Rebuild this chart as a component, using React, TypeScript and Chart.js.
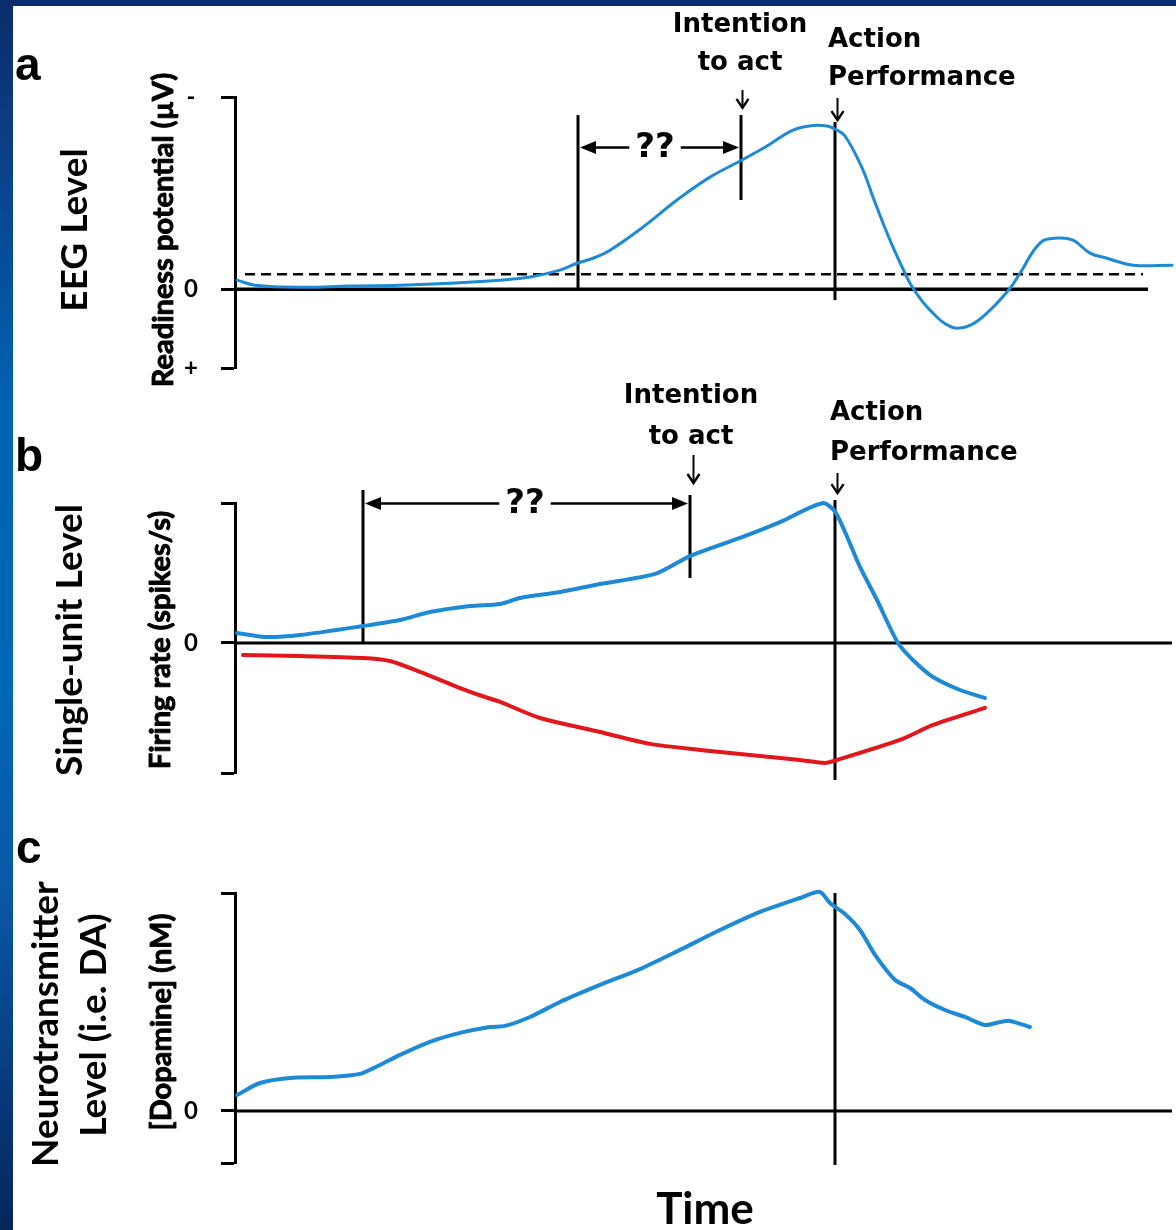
import React, { useEffect, useRef } from "react";
import { Chart, registerables } from "chart.js";

Chart.register(...registerables);

// ---------------- shared time axis (arbitrary units) ----------------
const timeMin = 0;
const timeMax = 94;

// ---------------- panel a : EEG readiness potential ----------------
const eegTime = [0.2, 2, 6.5, 11.5, 16.5, 21.5, 26.5, 29.5, 32.5, 34.2, 35.8, 37.5, 40.8, 44.2, 47.5, 50.7, 53.2, 55.8, 57.8, 59.2, 60, 61, 62.8, 63.8, 65.5, 67, 67.8, 69.5, 71.7, 73.5, 75.5, 77.5, 78.5, 80.5, 82.2, 83.8, 85.5, 87.2, 89.8, 93.7];
const eegPotential = [0.47, 0.21, 0.1, 0.16, 0.21, 0.31, 0.47, 0.63, 0.99, 1.35, 1.61, 2.03, 3.23, 4.64, 5.83, 6.72, 7.45, 8.28, 8.52, 8.49, 8.33, 7.97, 6.2, 4.79, 2.55, 0.83, 0.05, -1.09, -1.98, -1.88, -1.09, 0.05, 0.83, 2.4, 2.66, 2.55, 1.88, 1.61, 1.25, 1.25];
const eegReferenceLevel = 0.78;
const eegReferenceSpan = [1, 90.8];
const eegZeroSpan = [0, 91.3];
const eegEventTime = [34.3, 50.6, 60]; // onset, intention, action
const eegEventLow = [0, 4.64, -0.57];
const eegEventHigh = [9.06, 9.06, 8.7];
const eegRange = [-4.1, 10];
const eegTickValues = [-4.1, 0, 10];
const eegTickLabels = ["+", "0", "-"];

// ---------------- panel b : single-unit firing rate ----------------
const unitUpTime = [0.2, 3, 6.5, 12.8, 16.5, 19.5, 23.5, 26.5, 28.5, 32.5, 36.5, 42, 45.5, 50.5, 54.5, 58.8, 60.1, 62.5, 64.2, 66.3, 68, 69.8, 72.5, 75];
const unitUpRate = [0.71, 0.43, 0.57, 1.21, 1.64, 2.21, 2.64, 2.79, 3.21, 3.64, 4.21, 4.93, 6.21, 7.5, 8.64, 10, 9.29, 5.43, 3.07, 0, -1.36, -2.43, -3.36, -3.93];
const unitDownTime = [0.8, 6.5, 12.8, 15.5, 18.5, 23.5, 26.5, 30.5, 36.5, 41.5, 46.5, 52.5, 56.5, 59, 60.2, 66.5, 69.8, 75];
const unitDownRate = [-0.86, -0.93, -1.07, -1.29, -2.07, -3.5, -4.21, -5.36, -6.36, -7.21, -7.64, -8.07, -8.36, -8.57, -8.36, -6.93, -5.86, -4.64];
const unitZeroSpan = [0, 93.7];
const unitEventTime = [12.8, 45.5, 60];
const unitEventLow = [0, 4.64, -9.79];
const unitEventHigh = [10.93, 10.57, 10.21];
const unitRange = [-9.29, 10];
const unitTickValues = [-9.29, 0, 10];
const unitTickLabels = ["", "0", ""];

// ---------------- panel c : dopamine ----------------
const daTime = [0.2, 2.5, 5.5, 9.5, 12.5, 14.5, 16.5, 19.5, 22.5, 25.5, 27, 29.5, 32.5, 36.5, 40.5, 44.5, 48.5, 52.5, 56.5, 58.5, 59.5, 61, 62.5, 64, 66, 67.5, 69, 71, 73, 75, 76.5, 77.5, 79.5];
const daLevel = [0.73, 1.28, 1.51, 1.56, 1.7, 2.11, 2.57, 3.17, 3.58, 3.85, 3.9, 4.31, 5.0, 5.78, 6.51, 7.39, 8.3, 9.13, 9.77, 10.05, 9.54, 9.04, 8.3, 7.16, 6.01, 5.64, 5.09, 4.63, 4.31, 3.94, 4.08, 4.13, 3.85];
const daZeroSpan = [0, 93.7];
const daEventTime = [60];
const daEventLow = [-2.48];
const daEventHigh = [10];
const daRange = [-2.39, 10];
const daTickValues = [-2.39, 0, 10];
const daTickLabels = ["", "0", ""];

// ---------------- styles ----------------
const BLUE = "#1e8ad6";
const RED = "#e2171c";
const INK = "#000000";
const W = 1176;
const H = 1230;
const AXIS_X = 235;

type Pt = { x: number; y: number };
const pts = (xs: number[], ys: number[]): Pt[] => xs.map((x, i) => ({ x, y: ys[i] }));

const curve = (data: Pt[], color: string, width: number, tension: number) => ({
  data,
  borderColor: color,
  borderWidth: width,
  pointRadius: 0,
  fill: false,
  clip: false as any,
  borderCapStyle: "round",
  borderJoinStyle: "round",
  tension,
});

const rule = (data: Pt[], width: number, dash: number[] = []) => ({
  data,
  borderColor: INK,
  borderWidth: width,
  borderDash: dash,
  pointRadius: 0,
  tension: 0,
  fill: false,
  clip: false as any,
  borderCapStyle: "butt",
});

const eventRules = (t: number[], lo: number[], hi: number[]) =>
  t.map((x, i) => rule([{ x, y: lo[i] }, { x, y: hi[i] }], 3));

type TextSpec = { lines: string[]; x: number; baselines: number[]; align: CanvasTextAlign };
type DownArrow = { x: number; from: number; to: number };
type Interval = { from: number; to: number; level: number; label: string; labelAt: number };
type AxisTitle = { text: string; baselineX: number; centerY: number; size: number; thicken?: number };
type Overlay = {
  letter: { text: string; x: number; y: number };
  titles: AxisTitle[];
  texts: TextSpec[];
  arrows: DownArrow[];
  interval?: Interval;
};

function overlayPlugin(spec: Overlay) {
  return {
    id: "overlay",
    afterDraw(chart: any) {
      const { ctx } = chart;
      const xs = chart.scales.x;
      const ys = chart.scales.y;
      const px = (v: number) => xs.getPixelForValue(v);
      const py = (v: number) => ys.getPixelForValue(v);
      ctx.save();
      ctx.fillStyle = INK;
      ctx.strokeStyle = INK;

      // panel letter
      ctx.font = 'bold 46px "Liberation Sans", Arial, sans-serif';
      ctx.textAlign = "left";
      ctx.textBaseline = "alphabetic";
      ctx.fillText(spec.letter.text, spec.letter.x, spec.letter.y);

      // rotated axis titles
      for (const t of spec.titles) {
        ctx.save();
        ctx.translate(t.baselineX, t.centerY);
        ctx.rotate(-Math.PI / 2);
        ctx.font = `bold ${t.size}px Lato, "Open Sans", sans-serif`;
        ctx.textAlign = "center";
        ctx.textBaseline = "alphabetic";
        ctx.fillText(t.text, 0, 0);
        if (t.thicken) {
          ctx.lineWidth = t.thicken;
          ctx.lineJoin = "round";
          ctx.strokeText(t.text, 0, 0);
        }
        ctx.restore();
      }

      // event labels
      ctx.font = 'bold 26px "DejaVu Sans", sans-serif';
      ctx.textBaseline = "alphabetic";
      for (const t of spec.texts) {
        ctx.textAlign = t.align;
        t.lines.forEach((line, i) => ctx.fillText(line, px(t.x), py(t.baselines[i])));
      }

      // small down arrows
      for (const a of spec.arrows) {
        const x = Math.round(px(a.x)) + 0.5;
        const y1 = py(a.from);
        const y2 = py(a.to);
        ctx.lineWidth = 2;
        ctx.beginPath();
        ctx.moveTo(x, y1);
        ctx.lineTo(x, y2 - 2);
        ctx.stroke();
        ctx.lineWidth = 2.4;
        ctx.lineJoin = "miter";
        ctx.beginPath();
        ctx.moveTo(x - 6, y2 - 9);
        ctx.lineTo(x, y2);
        ctx.lineTo(x + 6, y2 - 9);
        ctx.stroke();
      }

      // double-headed interval arrow with "??"
      if (spec.interval) {
        const iv = spec.interval;
        const x1 = px(iv.from) + 2;
        const x2 = px(iv.to) - 2;
        const yy = Math.round(py(iv.level)) + 0.5;
        const xm = px(iv.labelAt);
        ctx.font = 'bold 34px "DejaVu Sans", sans-serif';
        const w = ctx.measureText(iv.label).width;
        const gap = 6;
        ctx.lineWidth = 2.5;
        ctx.beginPath();
        ctx.moveTo(x1 + 10, yy);
        ctx.lineTo(xm - w / 2 - gap, yy);
        ctx.moveTo(xm + w / 2 + gap, yy);
        ctx.lineTo(x2 - 10, yy);
        ctx.stroke();
        const head = (tip: number, dir: number) => {
          ctx.beginPath();
          ctx.moveTo(tip, yy);
          ctx.lineTo(tip - dir * 16, yy - 6.5);
          ctx.lineTo(tip - dir * 16, yy + 6.5);
          ctx.closePath();
          ctx.fill();
        };
        head(x1, -1);
        head(x2, 1);
        ctx.textAlign = "center";
        ctx.textBaseline = "middle";
        ctx.fillText(iv.label, xm, yy + 1);
      }
      ctx.restore();
    },
  };
}

type PanelDef = {
  datasets: any[];
  top: number;
  bottom: number;
  range: number[];
  tickValues: number[];
  tickLabels: string[];
  showTime: boolean;
  overlay: Overlay;
};

function makeConfig(p: PanelDef): any {
  const xScale: any = {
    type: "linear",
    min: timeMin,
    max: timeMax,
    display: p.showTime,
  };
  if (p.showTime) {
    Object.assign(xScale, {
      ticks: { display: false },
      grid: { display: false },
      border: { display: false },
      title: {
        display: true,
        text: "Time",
        color: INK,
        padding: 0,
        font: { family: "Lato, 'Open Sans', sans-serif", size: 44, weight: "bold", lineHeight: 0.9 },
      },
      afterFit: (s: any) => {
        s.height = H - p.bottom;
      },
    });
  }
  return {
    type: "line",
    data: { datasets: p.datasets },
    options: {
      responsive: false,
      maintainAspectRatio: false,
      animation: false,
      events: [],
      layout: { padding: { top: p.top, bottom: p.showTime ? 0 : H - p.bottom, left: 0, right: 1 } },
      plugins: { legend: { display: false }, tooltip: { enabled: false }, title: { display: false } },
      scales: {
        x: xScale,
        y: {
          type: "linear",
          min: p.range[0],
          max: p.range[1],
          afterFit: (s: any) => {
            s.width = AXIS_X;
          },
          afterBuildTicks: (s: any) => {
            s.ticks = p.tickValues.map((v) => ({ value: v }));
          },
          ticks: {
            autoSkip: false,
            crossAlign: "center",
            padding: 23,
            color: INK,
            font: { family: "Lato, 'Open Sans', sans-serif", size: 24, weight: "bold" },
            callback: (_v: any, i: number) => p.tickLabels[i],
          },
          grid: {
            drawOnChartArea: false,
            drawTicks: true,
            tickLength: 14,
            tickColor: INK,
            tickWidth: 3,
          },
          border: { display: true, color: INK, width: 3 },
        },
      },
    },
    plugins: [overlayPlugin(p.overlay)],
  };
}

const panels: PanelDef[] = [
  {
    top: 97,
    bottom: 368,
    range: eegRange,
    tickValues: eegTickValues,
    tickLabels: eegTickLabels,
    showTime: false,
    datasets: [
      curve(pts(eegTime, eegPotential), BLUE, 3, 0.4),
      rule(pts(eegZeroSpan, [0, 0]), 3.5),
      rule(pts(eegReferenceSpan, [eegReferenceLevel, eegReferenceLevel]), 2.5, [10, 6]),
      ...eventRules(eegEventTime, eegEventLow, eegEventHigh),
    ],
    overlay: {
      letter: { text: "a", x: 15, y: 80 },
      titles: [
        { text: "EEG Level", baselineX: 87, centerY: 230, size: 37 },
        { text: "Readiness potential (\u00b5V)", baselineX: 173, centerY: 230, size: 29, thicken: 0.9 },
      ],
      texts: [
        { lines: ["Intention", "to act"], x: 50.5, baselines: [13.39, 11.41], align: "center" },
        { lines: ["Action", "Performance"], x: 59.3, baselines: [12.6, 10.63], align: "left" },
      ],
      arrows: [
        { x: 50.7, from: 10.36, to: 9.43 },
        { x: 60.2, from: 9.95, to: 8.8 },
      ],
      interval: { from: 34.3, to: 50.6, level: 7.4, label: "??", labelAt: 42 },
    },
  },
  {
    top: 503,
    bottom: 773,
    range: unitRange,
    tickValues: unitTickValues,
    tickLabels: unitTickLabels,
    showTime: false,
    datasets: [
      curve(pts(unitUpTime, unitUpRate), BLUE, 4, 0.25),
      curve(pts(unitDownTime, unitDownRate), RED, 4, 0.25),
      rule(pts(unitZeroSpan, [0, 0]), 3),
      ...eventRules(unitEventTime, unitEventLow, unitEventHigh),
    ],
    overlay: {
      letter: { text: "b", x: 15, y: 471 },
      titles: [
        { text: "Single-unit Level", baselineX: 82, centerY: 640, size: 37 },
        { text: "Firing rate (spikes/s)", baselineX: 170, centerY: 640, size: 29, thicken: 0.9 },
      ],
      texts: [
        { lines: ["Intention", "to act"], x: 45.6, baselines: [17.14, 14.21], align: "center" },
        { lines: ["Action", "Performance"], x: 59.5, baselines: [15.93, 13.07], align: "left" },
      ],
      arrows: [
        { x: 45.8, from: 13.43, to: 11.43 },
        { x: 60.2, from: 12.14, to: 10.71 },
      ],
      interval: { from: 12.8, to: 45.5, level: 10, label: "??", labelAt: 29 },
    },
  },
  {
    top: 893,
    bottom: 1163,
    range: daRange,
    tickValues: daTickValues,
    tickLabels: daTickLabels,
    showTime: true,
    datasets: [
      curve(pts(daTime, daLevel), BLUE, 4, 0.25),
      rule(pts(daZeroSpan, [0, 0]), 3),
      ...eventRules(daEventTime, daEventLow, daEventHigh),
    ],
    overlay: {
      letter: { text: "c", x: 16, y: 863 },
      titles: [
        { text: "Neurotransmitter", baselineX: 58, centerY: 1024, size: 37 },
        { text: "Level (i.e. DA)", baselineX: 106, centerY: 1025, size: 37 },
        { text: "[Dopamine] (nM)", baselineX: 171, centerY: 1022, size: 29, thicken: 0.9 },
      ],
      texts: [],
      arrows: [],
    },
  },
];

function PanelCanvas({ def }: { def: PanelDef }) {
  const ref = useRef<HTMLCanvasElement>(null);
  useEffect(() => {
    if (!ref.current) return;
    const chart = new Chart(ref.current, makeConfig(def));
    return () => chart.destroy();
  }, [def]);
  return (
    <canvas
      ref={ref}
      width={W}
      height={H}
      style={{ position: "absolute", left: 0, top: 0, width: W, height: H }}
    />
  );
}

export default function App() {
  return (
    <div
      style={{
        position: "absolute",
        left: 0,
        top: 0,
        width: W,
        height: H,
        overflow: "hidden",
        background:
          "linear-gradient(to bottom, #0b2d6a 0%, #0a4590 16%, #0063b2 33%, #0068b8 55%, #0a58a6 72%, #073b7e 88%, #052559 100%)",
      }}
    >
      <div style={{ position: "absolute", left: 13, top: 6, right: 0, bottom: 0, background: "#ffffff" }} />
      {panels.map((p, i) => (
        <PanelCanvas key={i} def={p} />
      ))}
    </div>
  );
}
